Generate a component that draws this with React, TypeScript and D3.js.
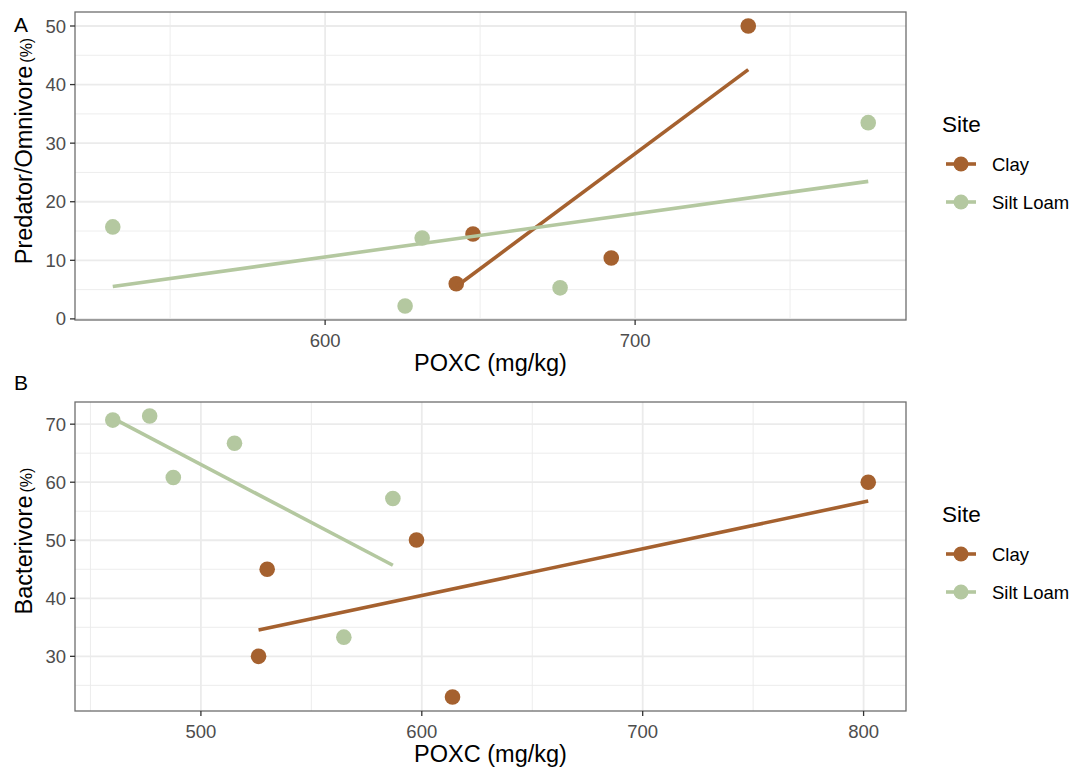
import React from "react";
import * as d3 from "d3";

// ---------- data ----------
const sites = ["Clay", "Silt Loam"];
const siteColors = ["#A5612F", "#B4C8A0"];

// Panel A: Predator/Omnivore (%) vs POXC
const aClayX = [642.3, 647.7, 692.3, 736.5];
const aClayY = [6.0, 14.5, 10.4, 50.0];
const aSiltX = [531.5, 625.8, 631.3, 675.8, 775.2];
const aSiltY = [15.7, 2.2, 13.8, 5.3, 33.5];
const aXTicks = [600, 700];
const aXMinor = [550, 650, 750];
const aYTicks = [0, 10, 20, 30, 40, 50];
const aYMinor = [5, 15, 25, 35, 45];

// Panel B: Bacterivore (%) vs POXC
const bClayX = [526.1, 530.0, 597.6, 613.9, 802.1];
const bClayY = [30.0, 45.0, 50.05, 23.0, 60.0];
const bSiltX = [460.1, 476.8, 487.5, 515.2, 586.9, 564.7];
const bSiltY = [70.7, 71.4, 60.8, 66.7, 57.2, 33.3];
const bXTicks = [500, 600, 700, 800];
const bXMinor = [450, 550, 650, 750];
const bYTicks = [30, 40, 50, 60, 70];
const bYMinor = [25, 35, 45, 55, 65];

const FONT = "'Liberation Sans', Arial, Helvetica, sans-serif";

function fit(xs: number[], ys: number[]) {
  const mx = d3.mean(xs) as number;
  const my = d3.mean(ys) as number;
  let sxy = 0, sxx = 0;
  xs.forEach((x, i) => { sxy += (x - mx) * (ys[i] - my); sxx += (x - mx) * (x - mx); });
  const b = sxy / sxx;
  const a = my - b * mx;
  const x0 = d3.min(xs) as number, x1 = d3.max(xs) as number;
  return [[x0, a + b * x0], [x1, a + b * x1]];
}

function expandDomain(vals: number[]) {
  const [lo, hi] = d3.extent(vals) as [number, number];
  const pad = (hi - lo) * 0.05;
  return [lo - pad, hi + pad];
}

type PanelProps = {
  top: number; bottom: number; left: number; right: number;
  tag: string; tagY: number;
  groupsX: number[][]; groupsY: number[][];
  xTicks: number[]; xMinor: number[]; yTicks: number[]; yMinor: number[];
  yTitle: string; yTitleCenter: number;
  legendTop: number;
};

function Panel(p: PanelProps) {
  const allX = p.groupsX.flat();
  const allY = p.groupsY.flat();
  const x = d3.scaleLinear().domain(expandDomain(allX)).range([p.left, p.right]);
  const y = d3.scaleLinear().domain(expandDomain(allY)).range([p.bottom, p.top]);
  const line = d3.line<number[]>().x(d => x(d[0])).y(d => y(d[1]));
  const grid = "#EBEBEB";
  return (
    <g>
      <rect x={p.left} y={p.top} width={p.right - p.left} height={p.bottom - p.top} fill="#fff" />
      {p.xMinor.map(v => <line key={"xm" + v} x1={x(v)} x2={x(v)} y1={p.top} y2={p.bottom} stroke={grid} strokeWidth={0.9} />)}
      {p.yMinor.map(v => <line key={"ym" + v} y1={y(v)} y2={y(v)} x1={p.left} x2={p.right} stroke={grid} strokeWidth={0.9} />)}
      {p.xTicks.map(v => <line key={"xg" + v} x1={x(v)} x2={x(v)} y1={p.top} y2={p.bottom} stroke={grid} strokeWidth={1.8} />)}
      {p.yTicks.map(v => <line key={"yg" + v} y1={y(v)} y2={y(v)} x1={p.left} x2={p.right} stroke={grid} strokeWidth={1.8} />)}
      {p.groupsX.map((gx, gi) => gx.map((vx, i) => (
        <circle key={"p" + gi + "-" + i} cx={x(vx)} cy={y(p.groupsY[gi][i])} r={7.8} fill={siteColors[gi]} />
      )))}
      {p.groupsX.map((gx, gi) => (
        <path key={"l" + gi} d={line(fit(gx, p.groupsY[gi])) as string} fill="none" stroke={siteColors[gi]} strokeWidth={3.6} />
      ))}
      <rect x={p.left} y={p.top} width={p.right - p.left} height={p.bottom - p.top} fill="none" stroke="#6E6E6E" strokeWidth={1.3} />
      {p.xTicks.map(v => (
        <g key={"xt" + v}>
          <line x1={x(v)} x2={x(v)} y1={p.bottom} y2={p.bottom + 5} stroke="#333" strokeWidth={1.3} />
          <text x={x(v)} y={p.bottom + 26.5} textAnchor="middle" fontSize={18.5} fill="#4D4D4D" fontFamily={FONT}>{v}</text>
        </g>
      ))}
      {p.yTicks.map(v => (
        <g key={"yt" + v}>
          <line x1={p.left - 5} x2={p.left} y1={y(v)} y2={y(v)} stroke="#333" strokeWidth={1.3} />
          <text x={p.left - 9} y={y(v) + 6.5} textAnchor="end" fontSize={18.5} fill="#4D4D4D" fontFamily={FONT}>{v}</text>
        </g>
      ))}
      <text x={(p.left + p.right) / 2} y={p.bottom + 51} textAnchor="middle" fontSize={23.5} fill="#000" fontFamily={FONT}>POXC (mg/kg)</text>
      <text transform={`translate(32,${p.yTitleCenter}) rotate(-90)`} textAnchor="middle" fontSize={23.5} fill="#000" fontFamily={FONT}>
        {p.yTitle}<tspan fontSize={16} dx={3}>(%)</tspan>
      </text>
      <text x={14} y={p.tagY} fontSize={21} fill="#000" fontFamily={FONT}>{p.tag}</text>
      <g>
        <text x={942} y={p.legendTop} fontSize={22.5} fill="#000" fontFamily={FONT}>Site</text>
        {sites.map((s, i) => {
          const cy = p.legendTop + 32 + i * 38;
          return (
            <g key={s}>
              <line x1={946} x2={976} y1={cy} y2={cy} stroke={siteColors[i]} strokeWidth={3.6} />
              <circle cx={961} cy={cy} r={7.5} fill={siteColors[i]} />
              <text x={992} y={cy + 6.5} fontSize={18.5} fill="#000" fontFamily={FONT}>{s}</text>
            </g>
          );
        })}
      </g>
    </g>
  );
}

export default function App() {
  return (
    <svg width={1072} height={769} style={{ display: "block", position: "absolute", left: 0, top: 0 }}>
      <rect width={1072} height={769} fill="#fff" />
      <Panel top={12} bottom={320} left={75} right={906} tag="A" tagY={32}
        groupsX={[aClayX, aSiltX]} groupsY={[aClayY, aSiltY]}
        xTicks={aXTicks} xMinor={aXMinor} yTicks={aYTicks} yMinor={aYMinor}
        yTitle="Predator/Omnivore" yTitleCenter={151} legendTop={132} />
      <Panel top={402} bottom={711} left={75} right={906} tag="B" tagY={390}
        groupsX={[bClayX, bSiltX]} groupsY={[bClayY, bSiltY]}
        xTicks={bXTicks} xMinor={bXMinor} yTicks={bYTicks} yMinor={bYMinor}
        yTitle="Bacterivore" yTitleCenter={541} legendTop={522} />
    </svg>
  );
}
